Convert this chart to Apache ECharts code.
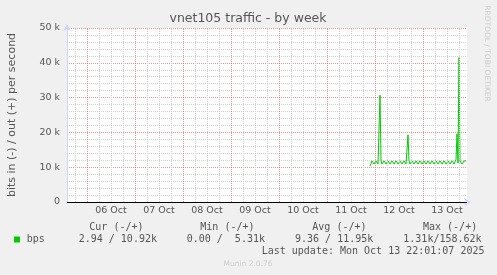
<!DOCTYPE html>
<html><head><meta charset="utf-8">
<script src="https://cdn.jsdelivr.net/npm/echarts@6/dist/echarts.min.js"></script>
<style>html,body{margin:0;padding:0;background:#f0f0f0;}#c{width:497px;height:275px;}</style>
</head><body><div id="c"></div>
<script>
const titleText = 'vnet105 traffic - by week';
const yAxisName = 'bits in (-) / out (+) per second';
const dayLabels = ['06 Oct','07 Oct','08 Oct','09 Oct','10 Oct','11 Oct','12 Oct','13 Oct'];
const dayLabelHours = [36,60,84,108,132,156,180,204];
const midnightHours = [24,48,72,96,120,144,168,192];
const sixHourHours = [18,30,36,42,54,60,66,78,84,90,102,108,114,126,132,138,150,156,162,174,180,186,198,204,210];
const yTickValues = [0,10000,20000,30000,40000,50000];
const yTickLabels = ['0','10 k','20 k','30 k','40 k','50 k'];
const sampleStartHour = 165.5;
const sampleStepHours = 0.5;
const outBps = [
  10300,11000,11800,11800,10900,10900,11800,11800,10900,10900,
  30700,11800,10900,10900,11800,11800,10900,10900,11800,11800,
  10900,10900,11800,11800,10900,10900,11800,11800,10900,10900,
  11800,11800,10900,10900,11800,11800,10900,10900,19300,11800,
  10900,10900,11800,11800,10900,10900,11800,11800,10900,10900,
  11800,11800,10900,10900,11800,11800,10900,10900,11800,11800,
  10900,10900,11800,11800,10900,10900,11800,11800,10900,10900,
  11800,11800,10900,10900,11800,11800,10900,10900,11800,11800,
  10900,10900,11800,11800,10900,10900,12200,19600,11200,41500,
  11800,11800,10900,10900,11800,11800,11800
];
const legendHeaders = ['Cur (-/+)','Min (-/+)','Avg (-/+)','Max (-/+)'];
const legendValues = ['2.94 / 10.92k','0.00 /  5.31k','9.36 / 11.95k','1.31k/158.62k'];
const seriesName = 'bps';
const lastUpdate = 'Last update: Mon Oct 13 22:01:07 2025';
const footerText = 'Munin 2.0.76';
const watermarkText = 'RRDTOOL / TOBI OETIKER';

const GREEN = '#00cc00';
const TXT = '#555';
const MONO = '10px "DejaVu Sans Mono"';
const MAJOR = 'rgba(222,79,79,0.6)';
const MINOR = '#cfcfcf';

const seriesData = outBps.map((v, i) => [sampleStartHour + i * sampleStepHours, v]);

const gridLineData = []
  .concat(sixHourHours.filter(h => midnightHours.indexOf(h) < 0).map(h => ({xAxis: h, lineStyle: {color: MINOR, type: [1, 1], width: 1}})))
  .concat(midnightHours.map(h => ({xAxis: h, lineStyle: {color: MAJOR, type: [1, 1], width: 1}})));

const headerX = [89.3, 200.3, 312.3, 423];
const valueX = [78.7, 186.7, 295, 403.3];

const graphics = [
  {type: 'text', x: 248, y: 19, style: {text: titleText, font: '12.5px "DejaVu Sans"', fill: TXT, align: 'center', verticalAlign: 'middle'}},
  {type: 'text', x: 12, y: 115, rotation: Math.PI / 2, style: {text: yAxisName, font: '11px "DejaVu Sans"', fill: TXT, align: 'center', verticalAlign: 'middle'}},
  {type: 'text', x: 487, y: 53.5, rotation: -Math.PI / 2, style: {text: watermarkText, font: '7.5px "DejaVu Sans"', fill: '#cccccc', align: 'center', verticalAlign: 'middle'}},
  {type: 'rect', shape: {x: 14, y: 236.5, width: 6, height: 6}, style: {fill: GREEN}},
  {type: 'text', x: 26.7, y: 239.5, style: {text: seriesName, font: MONO, fill: TXT, align: 'left', verticalAlign: 'middle'}},
  {type: 'text', x: 261.7, y: 251.7, style: {text: lastUpdate, font: MONO, fill: TXT, align: 'left', verticalAlign: 'middle'}},
  {type: 'text', x: 248, y: 264.3, style: {text: footerText, font: '7.5px "DejaVu Sans"', fill: '#cccccc', align: 'center', verticalAlign: 'middle'}}
];
legendHeaders.forEach((t, i) => graphics.push({type: 'text', x: headerX[i], y: 227.7, style: {text: t, font: MONO, fill: TXT, align: 'left', verticalAlign: 'middle'}}));
legendValues.forEach((t, i) => graphics.push({type: 'text', x: valueX[i], y: 239.5, style: {text: t, font: MONO, fill: TXT, align: 'left', verticalAlign: 'middle'}}));

const chart = echarts.init(document.getElementById('c'), null, {renderer: 'canvas'});
chart.setOption({
  backgroundColor: '#f0f0f0',
  animation: false,
  grid: {left: 67, top: 28, width: 400, height: 174, show: true, backgroundColor: '#ffffff', borderWidth: 0},
  xAxis: {
    type: 'value', min: 14, max: 214,
    splitLine: {show: false},
    axisTick: {show: false},
    axisLine: {show: true, lineStyle: {color: '#CFD6F8', width: 1}, symbol: ['none', 'arrow'], symbolSize: [6, 7], symbolOffset: [0, 4]},
    axisLabel: {
      customValues: dayLabelHours,
      formatter: v => dayLabels[dayLabelHours.indexOf(v)],
      color: TXT, fontSize: 9.5, fontFamily: 'DejaVu Sans', margin: 4
    }
  },
  yAxis: {
    type: 'value', min: 0, max: 50000, interval: 10000,
    axisLine: {show: true, lineStyle: {color: '#CFD6F8', width: 1}, symbol: ['none', 'arrow'], symbolSize: [6, 7], symbolOffset: [0, 4]},
    axisTick: {show: false},
    splitLine: {show: true, lineStyle: {color: MAJOR, type: [1, 1], width: 1}},
    minorTick: {show: false, splitNumber: 5},
    minorSplitLine: {show: true, lineStyle: {color: MINOR, type: [1, 1], width: 1}},
    axisLabel: {
      formatter: v => yTickLabels[yTickValues.indexOf(v)],
      color: TXT, fontSize: 9.5, fontFamily: 'DejaVu Sans', margin: 7
    }
  },
  series: [
    {
      type: 'line', data: [], silent: true, z: 1,
      markLine: {silent: true, symbol: ['none', 'none'], label: {show: false}, animation: false, data: gridLineData}
    },
    {
      type: 'line', data: [], silent: true, z: 2,
      markLine: {silent: true, symbol: ['none', 'none'], label: {show: false}, animation: false,
        data: [{yAxis: 0, lineStyle: {color: '#000', type: 'solid', width: 1}}]}
    },
    {
      name: seriesName, type: 'line', data: seriesData, z: 3,
      showSymbol: false, symbol: 'none', smooth: false,
      lineStyle: {color: GREEN, width: 1}, itemStyle: {color: GREEN}
    }
  ],
  graphic: graphics
});
</script></body></html>
